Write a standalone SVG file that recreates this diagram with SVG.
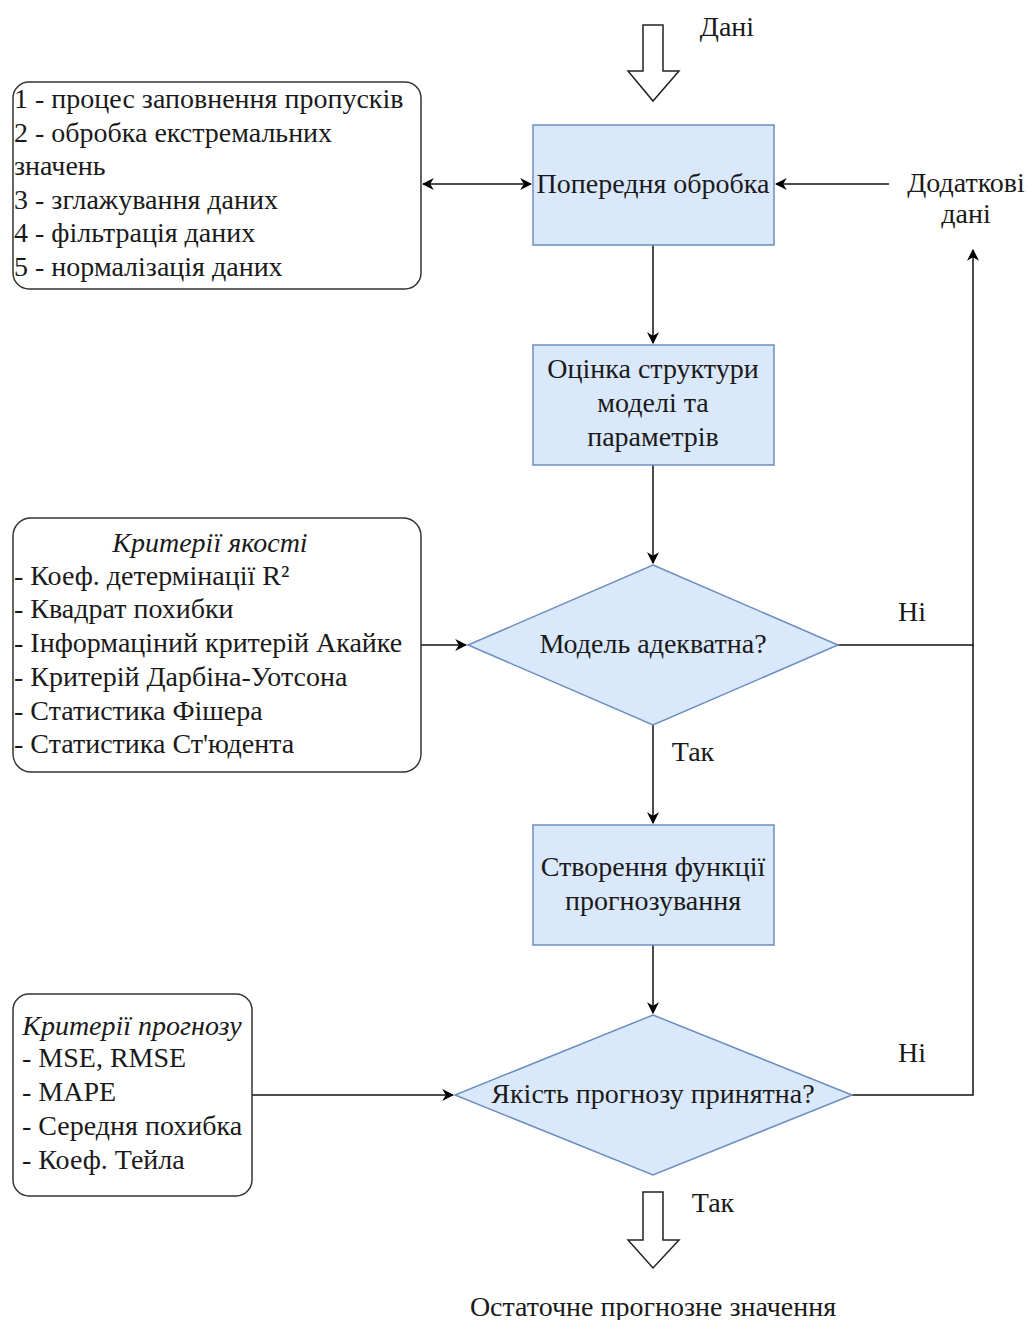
<svg xmlns="http://www.w3.org/2000/svg" width="1029" height="1320" viewBox="0 0 1029 1320">
<defs>
<marker id="ah" viewBox="0 0 10 10" refX="9" refY="5" markerWidth="12" markerHeight="12" markerUnits="userSpaceOnUse" orient="auto-start-reverse">
<path d="M0,0 L10,5 L0,10 L3,5 Z" fill="#000"/>
</marker>
<style>
text{font-family:"Liberation Serif","Times New Roman",serif;font-size:28px;fill:#1a1a1a}
.c{text-anchor:middle}
.i{font-style:italic}
.proc{fill:#dae8fc;stroke:#6c8ebf;stroke-width:1.5}
.note{fill:#fff;stroke:#333;stroke-width:1.5}
.blk{fill:#fff;stroke:#222;stroke-width:1.5}
.ln{fill:none;stroke:#111;stroke-width:1.5}
</style>
</defs>
<g id="connectors">
<line class="ln" x1="423" y1="184" x2="531" y2="184" marker-start="url(#ah)" marker-end="url(#ah)"/>
<line class="ln" x1="889" y1="184" x2="776" y2="184" marker-end="url(#ah)"/>
<line class="ln" x1="653" y1="245" x2="653" y2="343" marker-end="url(#ah)"/>
<line class="ln" x1="653" y1="465" x2="653" y2="563" marker-end="url(#ah)"/>
<line class="ln" x1="421" y1="645" x2="466" y2="645" marker-end="url(#ah)"/>
<line class="ln" x1="653" y1="725" x2="653" y2="823" marker-end="url(#ah)"/>
<line class="ln" x1="653" y1="945" x2="653" y2="1013" marker-end="url(#ah)"/>
<line class="ln" x1="252" y1="1095" x2="453" y2="1095" marker-end="url(#ah)"/>
<polyline class="ln" points="838,645 973,645 973,250" marker-end="url(#ah)"/>
<polyline class="ln" points="852,1095 973,1095 973,645"/>
</g>
<g id="in-arrow">
<polygon class="blk" points="643,25 663,25 663,71 679,71 653,101 628,71 643,71"/>
<text x="727" y="36" class="c">Дані</text>
</g>
<g id="preproc">
<rect class="proc" x="533" y="125" width="241" height="120"/>
<text x="653" y="193" class="c">Попередня обробка</text>
</g>
<g id="steps">
<rect class="note" x="13" y="82" width="408" height="207" rx="16"/>
<text x="14" y="108">1 - процес заповнення пропусків</text>
<text x="14" y="142">2 - обробка екстремальних</text>
<text x="14" y="175">значень</text>
<text x="14" y="209">3 - зглажування даних</text>
<text x="14" y="242">4 - фільтрація даних</text>
<text x="14" y="276">5 - нормалізація даних</text>
</g>
<g id="extra">
<text x="966" y="192" class="c">Додаткові</text>
<text x="966" y="223" class="c">дані</text>
</g>
<g id="estimate">
<rect class="proc" x="533" y="345" width="241" height="120"/>
<text x="653" y="378" class="c">Оцінка структури</text>
<text x="653" y="412" class="c">моделі та</text>
<text x="653" y="446" class="c">параметрів</text>
</g>
<g id="quality">
<rect class="note" x="13" y="518" width="408" height="254" rx="18"/>
<text x="210" y="552" class="c i">Критерії якості</text>
<text x="14" y="585">- Коеф. детермінації R²</text>
<text x="14" y="618">- Квадрат похибки</text>
<text x="14" y="652">- Інформаціний критерій Акайке</text>
<text x="14" y="686">- Критерій Дарбіна-Уотсона</text>
<text x="14" y="720">- Статистика Фішера</text>
<text x="14" y="753">- Статистика Ст'юдента</text>
</g>
<g id="adequate">
<polygon class="proc" points="653,565 838,645 653,725 468,645"/>
<text x="653" y="653" class="c">Модель адекватна?</text>
</g>
<text x="912" y="621" class="c">Ні</text>
<text x="693" y="761" class="c">Так</text>
<g id="create">
<rect class="proc" x="533" y="825" width="241" height="120"/>
<text x="653" y="876" class="c">Створення функції</text>
<text x="653" y="910" class="c">прогнозування</text>
</g>
<g id="forecast-criteria">
<rect class="note" x="13" y="994" width="239" height="202" rx="16"/>
<text x="132" y="1035" class="c i">Критерії прогнозу</text>
<text x="22" y="1067">- MSE, RMSE</text>
<text x="22" y="1101">- MAPE</text>
<text x="22" y="1135">- Середня похибка</text>
<text x="22" y="1169">- Коеф. Тейла</text>
</g>
<g id="accept">
<polygon class="proc" points="653,1015 852,1095 653,1175 455,1095"/>
<text x="653" y="1103" class="c">Якість прогнозу принятна?</text>
</g>
<text x="912" y="1062" class="c">Ні</text>
<g id="out-arrow">
<polygon class="blk" points="643,1192 663,1192 663,1240 679,1240 653,1268 628,1240 643,1240"/>
<text x="713" y="1212" class="c">Так</text>
</g>
<g id="result">
<text x="653" y="1316" class="c">Остаточне прогнозне значення</text>
</g>
</svg>
